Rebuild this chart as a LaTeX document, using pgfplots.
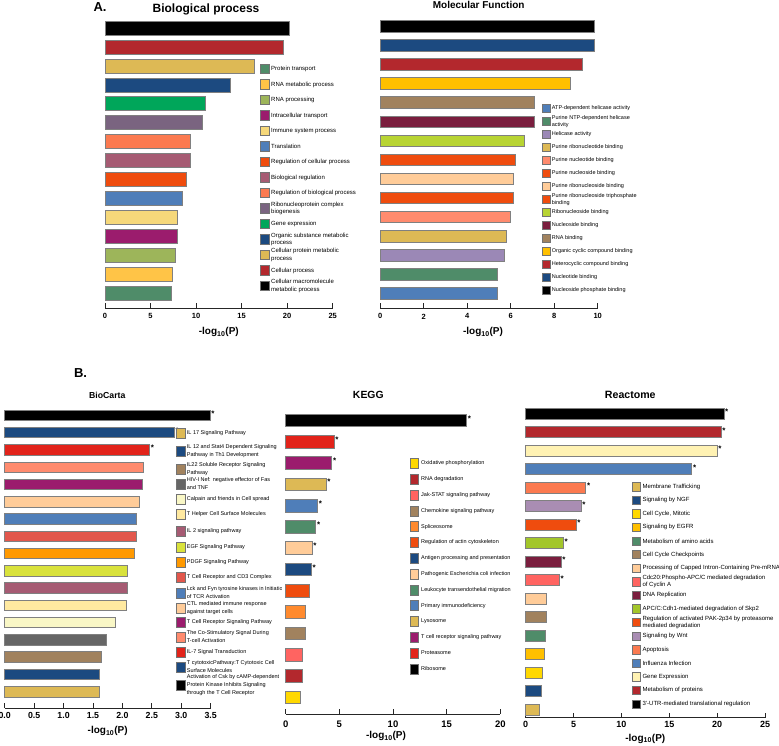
\documentclass[border=0pt]{standalone}
\usepackage{pgfplots}
\pgfplotsset{compat=1.18}
\usepackage{fontspec}
\setmainfont{Liberation Sans}

\definecolor{navy}{HTML}{1C4A80}
\definecolor{brick}{HTML}{B3282D}
\definecolor{gold}{HTML}{DDB955}
\definecolor{ggreen}{HTML}{00A65A}
\definecolor{purpgrey}{HTML}{7A6480}
\definecolor{coral}{HTML}{FB7A50}
\definecolor{mauve}{HTML}{A65B73}
\definecolor{orred}{HTML}{EF4C0E}
\definecolor{steel}{HTML}{4F7EB9}
\definecolor{lyellow}{HTML}{F6D87A}
\definecolor{magenta2}{HTML}{9B1C6D}
\definecolor{olive2}{HTML}{9DB55A}
\definecolor{yelor}{HTML}{FFC447}
\definecolor{gg}{HTML}{4F8C69}
\definecolor{amber}{HTML}{FFC000}
\definecolor{brown2}{HTML}{A1825E}
\definecolor{maroon}{HTML}{7A1E3E}
\definecolor{lime2}{HTML}{B8D433}
\definecolor{peach}{HTML}{FFCC99}
\definecolor{salmon}{HTML}{FF8B6E}
\definecolor{lavender}{HTML}{9B88B6}
\definecolor{red2}{HTML}{E2231A}
\definecolor{indred}{HTML}{E2574C}
\definecolor{orange2}{HTML}{FF9900}
\definecolor{ylime}{HTML}{D9E23C}
\definecolor{helper}{HTML}{FFE9A0}
\definecolor{paley}{HTML}{F9F7C6}
\definecolor{dgrey}{HTML}{666666}
\definecolor{splice}{HTML}{FF8A2E}
\definecolor{jak}{HTML}{FF6461}
\definecolor{yellow2}{HTML}{FFD800}
\definecolor{genex}{HTML}{FFF2B3}
\definecolor{wnt}{HTML}{A98DB3}
\definecolor{apc}{HTML}{A3C62A}

\pgfplotsset{
  hpanel/.style={
    scale only axis,
    axis x line=bottom, axis y line=none,
    axis line style={-, line width=0.9pt, black!85},
    xtick align=inside,
    major tick length=5pt,
    tick style={line width=0.9pt, black!85},
    ytick=\empty,
    clip=false,
    xmin=0,
    xticklabel={\bfseries\pgfmathprintnumber[assume math mode=true]{\tick}},
    xticklabel style={anchor=center},
    xlabel={-log\textsubscript{10}(P)},
    xlabel style={font=\bfseries\fontsize{10}{11}\selectfont, at={(axis description cs:0.5,0)}, anchor=center},
  },
  hb/.style={xbar, bar shift=0pt, fill=#1, draw=black!50, line width=0.6pt},
  star/.style={nodes near coords={*},
    every node near coord/.append style={anchor=west, font=\bfseries\fontsize{8}{8}\selectfont, inner sep=1pt, yshift=2pt}},
}

\begin{document}
\begin{tikzpicture}
\useasboundingbox (0pt,0pt) rectangle (779pt,746pt);

% panel letters and titles
\node[font=\bfseries\fontsize{13}{13}\selectfont] at (100pt,738.5pt) {A.};
\node[font=\bfseries\fontsize{13}{13}\selectfont] at (80.5pt,373pt) {B.};
\node[font=\bfseries\fontsize{12}{12}\selectfont] at (206pt,737pt) {Biological process};
\node[font=\bfseries\fontsize{10}{10}\selectfont] at (478.7pt,741pt) {Molecular Function};
\node[font=\bfseries\fontsize{8.7}{9}\selectfont] at (107.3pt,351pt) {BioCarta};
\node[font=\bfseries\fontsize{10.4}{11}\selectfont] at (368.3pt,351pt) {KEGG};
\node[font=\bfseries\fontsize{10.6}{11}\selectfont] at (630.3pt,351pt) {Reactome};

% ---------------- Biological process
\begin{axis}[hpanel, at={(105pt,438pt)}, anchor=south west,
  width=227.7pt, height=291.3pt, xmax=25, ymin=0.21, ymax=15.6,
  bar width=14pt, xtick={0,5,10,15,20,25},
  xticklabel style={font=\fontsize{7.5}{8}\selectfont, yshift=-8.4pt},
  xlabel style={yshift=-24pt}]
\addplot[hb=gg] coordinates {(7.3,1)};
\addplot[hb=yelor] coordinates {(7.35,2)};
\addplot[hb=olive2] coordinates {(7.7,3)};
\addplot[hb=magenta2] coordinates {(7.95,4)};
\addplot[hb=lyellow] coordinates {(7.98,5)};
\addplot[hb=steel] coordinates {(8.5,6)};
\addplot[hb=orred] coordinates {(8.97,7)};
\addplot[hb=mauve] coordinates {(9.4,8)};
\addplot[hb=coral] coordinates {(9.37,9)};
\addplot[hb=purpgrey] coordinates {(10.7,10)};
\addplot[hb=ggreen] coordinates {(11.05,11)};
\addplot[hb=navy] coordinates {(13.8,12)};
\addplot[hb=gold] coordinates {(16.4,13)};
\addplot[hb=brick] coordinates {(19.55,14)};
\addplot[hb=black] coordinates {(20.2,15)};
\end{axis}

% ---------------- Molecular Function
\begin{axis}[hpanel, at={(380.3pt,438pt)}, anchor=south west,
  width=217.4pt, height=293pt, xmax=10, ymin=0.22, ymax=15.6,
  bar width=11.7pt, xtick={0,2,4,6,8,10},
  xticklabel style={font=\fontsize{7.5}{8}\selectfont, yshift=-8.4pt},
  xlabel style={yshift=-24pt, xshift=-6pt}]
\addplot[hb=steel] coordinates {(5.38,1)};
\addplot[hb=gg] coordinates {(5.38,2)};
\addplot[hb=lavender] coordinates {(5.72,3)};
\addplot[hb=gold] coordinates {(5.8,4)};
\addplot[hb=salmon] coordinates {(5.99,5)};
\addplot[hb=orred] coordinates {(6.12,6)};
\addplot[hb=peach] coordinates {(6.12,7)};
\addplot[hb=orred] coordinates {(6.22,8)};
\addplot[hb=lime2] coordinates {(6.61,9)};
\addplot[hb=maroon] coordinates {(7.08,10)};
\addplot[hb=brown2] coordinates {(7.08,11)};
\addplot[hb=amber] coordinates {(8.72,12)};
\addplot[hb=brick] coordinates {(9.28,13)};
\addplot[hb=navy] coordinates {(9.84,14)};
\addplot[hb=black] coordinates {(9.84,15)};
\end{axis}

% ---------------- BioCarta
\begin{axis}[hpanel, at={(4.7pt,38pt)}, anchor=south west,
  width=206pt, height=303.1pt, xmax=3.5, ymin=0.05, ymax=17.6,
  bar width=10.5pt, xtick={0,0.5,1,1.5,2,2.5,3,3.5},
  xticklabel={\bfseries\pgfmathprintnumber[assume math mode=true, fixed, fixed zerofill, precision=1]{\tick}},
  xticklabel style={font=\fontsize{8.8}{9}\selectfont, yshift=-7.5pt},
  xlabel style={yshift=-23pt}]
\addplot[hb=gold] coordinates {(1.61,1)};
\addplot[hb=navy] coordinates {(1.61,2)};
\addplot[hb=brown2] coordinates {(1.64,3)};
\addplot[hb=dgrey] coordinates {(1.73,4)};
\addplot[hb=paley] coordinates {(1.88,5)};
\addplot[hb=helper] coordinates {(2.06,6)};
\addplot[hb=mauve] coordinates {(2.08,7)};
\addplot[hb=ylime] coordinates {(2.08,8)};
\addplot[hb=orange2] coordinates {(2.20,9)};
\addplot[hb=indred] coordinates {(2.23,10)};
\addplot[hb=steel] coordinates {(2.24,11)};
\addplot[hb=peach] coordinates {(2.28,12)};
\addplot[hb=magenta2] coordinates {(2.34,13)};
\addplot[hb=salmon] coordinates {(2.36,14)};
\addplot[hb=red2, star] coordinates {(2.46,15)};
\addplot[hb=navy, star] coordinates {(2.88,16)};
\addplot[hb=black, star] coordinates {(3.49,17)};
\end{axis}

% ---------------- KEGG
\begin{axis}[hpanel, at={(285.7pt,32pt)}, anchor=south west,
  width=214.6pt, height=305.4pt, xmax=20, ymin=0.21, ymax=14.55,
  bar width=12.7pt, xtick={0,5,10,15,20},
  xticklabel style={font=\fontsize{9.5}{10}\selectfont, yshift=-10.5pt},
  xlabel style={yshift=-22pt, xshift=-7pt}]
\addplot[hb=yellow2] coordinates {(1.40,1)};
\addplot[hb=brick] coordinates {(1.55,2)};
\addplot[hb=jak] coordinates {(1.55,3)};
\addplot[hb=brown2] coordinates {(1.80,4)};
\addplot[hb=splice] coordinates {(1.83,5)};
\addplot[hb=orred] coordinates {(2.17,6)};
\addplot[hb=navy, star] coordinates {(2.39,7)};
\addplot[hb=peach, star] coordinates {(2.45,8)};
\addplot[hb=gg, star] coordinates {(2.80,9)};
\addplot[hb=steel, star] coordinates {(2.98,10)};
\addplot[hb=gold, star] coordinates {(3.76,11)};
\addplot[hb=magenta2, star] coordinates {(4.29,12)};
\addplot[hb=red2, star] coordinates {(4.5,13)};
\addplot[hb=black, star] coordinates {(16.86,14)};
\end{axis}

% ---------------- Reactome
\begin{axis}[hpanel, at={(525.7pt,28.3pt)}, anchor=south west,
  width=239.3pt, height=315pt, xmax=25, ymin=0.57, ymax=17.6,
  bar width=11pt, xtick={0,5,10,15,20,25},
  xticklabel style={font=\fontsize{9}{10}\selectfont, yshift=-6.8pt},
  xlabel style={yshift=-21pt}]
\addplot[hb=gold] coordinates {(1.42,1)};
\addplot[hb=navy] coordinates {(1.6,2)};
\addplot[hb=yellow2] coordinates {(1.74,3)};
\addplot[hb=amber] coordinates {(1.95,4)};
\addplot[hb=gg] coordinates {(2.02,5)};
\addplot[hb=brown2] coordinates {(2.12,6)};
\addplot[hb=peach] coordinates {(2.15,7)};
\addplot[hb=jak, star] coordinates {(3.51,8)};
\addplot[hb=maroon, star] coordinates {(3.69,9)};
\addplot[hb=apc, star] coordinates {(3.93,10)};
\addplot[hb=orred, star] coordinates {(5.26,11)};
\addplot[hb=wnt, star] coordinates {(5.78,12)};
\addplot[hb=coral, star] coordinates {(6.27,13)};
\addplot[hb=steel, star] coordinates {(17.35,14)};
\addplot[hb=genex, star] coordinates {(20.0,15)};
\addplot[hb=brick, star] coordinates {(20.4,16)};
\addplot[hb=black, star] coordinates {(20.7,17)};
\end{axis}

% ---------------- legends
\begin{scope}[font=\fontsize{6}{7.3}\selectfont]
\foreach \yy/\cl/\lt in {677/gg/{Protein transport}, 661.5/yelor/{RNA metabolic process},
  646/olive2/{RNA processing}, 630.5/magenta2/{Intracellular transport},
  615/lyellow/{Immune system process}, 599.5/steel/{Translation},
  584/orred/{Regulation of cellular process}, 568.5/mauve/{Biological regulation},
  553/coral/{Regulation of biological process}, 537.5/purpgrey/{Ribonucleoprotein complex\\ biogenesis},
  522/ggreen/{Gene expression}, 506.5/navy/{Organic substance metabolic\\process},
  491/gold/{Cellular protein metabolic\\ process}, 475.5/brick/{Cellular process},
  460/black/{Cellular macromolecule\\metabolic process}}{
  \filldraw[fill=\cl, draw=black!55, line width=0.5pt] ({260pt},{\yy*1pt-4.75pt}) rectangle ++(9pt,9.5pt);
  \node[anchor=west, align=left, inner sep=0pt] at ({271pt},{\yy*1pt}) {\lt};
}
\end{scope}

\begin{scope}[font=\fontsize{5.5}{7.3}\selectfont]
\foreach \yy/\cl/\lt in {637.7/steel/{ATP-dependent helicase activity},
  624.7/gg/{Purine NTP-dependent helicase\\activity}, 611.7/lavender/{Helicase activity},
  598.7/gold/{Purine ribonucleotide binding}, 585.7/salmon/{Purine nucleotide binding},
  572.7/orred/{Purine nucleoside binding}, 559.7/peach/{Purine ribonucleoside binding},
  546.7/orred/{Purine ribonucleoside triphosphate\\binding}, 533.7/lime2/{Ribonucleoside binding},
  520.7/maroon/{Nucleoside binding}, 507.7/brown2/{RNA binding},
  494.7/amber/{Organic cyclic compound binding}, 481.7/brick/{Heterocyclic compound binding},
  468.7/navy/{Nucleotide binding}, 455.7/black/{Nucleoside phosphate binding}}{
  \filldraw[fill=\cl, draw=black!55, line width=0.5pt] ({542.7pt},{\yy*1pt-4.25pt}) rectangle ++(7.5pt,8.5pt);
  \node[anchor=west, align=left, inner sep=0pt] at ({551.7pt},{\yy*1pt}) {\lt};
}
\end{scope}

\begin{scope}[font=\fontsize{5.5}{8}\selectfont]
\clip (0pt,0pt) rectangle (281pt,746pt);
\foreach \yy/\cl/\lt in {313/gold/{IL 17 Signaling Pathway},
  295/navy/{IL 12 and Stat4 Dependent Signaling\\Pathway in Th1 Development},
  277/brown2/{IL22 Soluble Receptor Signaling\\Pathway},
  262/dgrey/{HIV-I Nef: negative effector of Fas\\and TNF},
  247/paley/{Calpain and friends in Cell spread},
  232/helper/{T Helper Cell Surface Molecules},
  215/mauve/{IL 2 signaling pathway}, 199/ylime/{EGF Signaling Pathway},
  184/orange2/{PDGF Signaling Pathway}, 169/indred/{T Cell Receptor and CD3 Complex},
  153/steel/{Lck and Fyn tyrosine kinases in Initiation\\of TCR Activation},
  138/peach/{CTL mediated immune response\\against target cells},
  124/magenta2/{T Cell Receptor Signaling Pathway},
  109/salmon/{The Co-Stimulatory Signal During\\T-cell Activation},
  94/red2/{IL-7 Signal Transduction},
  79/navy/{T cytotoxicPathway:T Cytotoxic Cell\\Surface Molecules},
  61/black/{Activation of Csk by cAMP-dependent\\Protein Kinase Inhibits Signaling\\through the T Cell Receptor}}{
  \filldraw[fill=\cl, draw=black!55, line width=0.5pt] ({176.7pt},{\yy*1pt-5pt}) rectangle ++(8.3pt,10pt);
  \node[anchor=west, align=left, inner sep=0pt] at ({186.7pt},{\yy*1pt}) {\lt};
}
\end{scope}

\begin{scope}[font=\fontsize{5.5}{7}\selectfont]
\foreach \yy/\cl/\lt in {282.7/yellow2/{Oxidative phosphorylation},
  266.9/brick/{RNA degradation}, 251.1/jak/{Jak-STAT signaling pathway},
  235.2/brown2/{Chemokine signaling pathway}, 219.4/splice/{Spliceosome},
  203.6/orred/{Regulation of actin cytoskeleton},
  187.8/navy/{Antigen processing and presentation},
  171.9/peach/{Pathogenic Escherichia coli infection},
  156.1/gg/{Leukocyte transendothelial migration},
  140.3/steel/{Primary immunodeficiency}, 124.5/gold/{Lysosome},
  108.7/magenta2/{T cell receptor signaling pathway},
  92.9/red2/{Proteasome}, 77.0/black/{Ribosome}}{
  \filldraw[fill=\cl, draw=black!55, line width=0.5pt] ({410pt},{\yy*1pt-5pt}) rectangle ++(8.3pt,10pt);
  \node[anchor=west, align=left, inner sep=0pt] at ({421pt},{\yy*1pt}) {\lt};
}
\end{scope}

\begin{scope}[font=\fontsize{6}{7.3}\selectfont]
\clip (0pt,0pt) rectangle (779pt,746pt);
\foreach \yy/\cl/\lt in {259.3/gold/{Membrane Trafficking},
  245.7/navy/{Signaling by NGF}, 232.1/yellow2/{Cell Cycle, Mitotic},
  218.6/amber/{Signaling by EGFR}, 205.0/gg/{Metabolism of amino acids},
  191.4/brown2/{Cell Cycle Checkpoints},
  177.8/peach/{Processing of Capped Intron-Containing Pre-mRNA},
  164.2/jak/{Cdc20:Phospho-APC/C mediated degradation\\of Cyclin A},
  150.7/maroon/{DNA Replication},
  137.1/apc/{APC/C:Cdh1-mediated degradation of Skp2},
  123.5/orred/{Regulation of activated PAK-2p34 by proteasome\\mediated degradation},
  109.9/wnt/{Signaling by Wnt}, 96.3/coral/{Apoptosis},
  82.8/steel/{Influenza Infection}, 69.2/genex/{Gene Expression},
  55.6/brick/{Metabolism of proteins},
  42.0/black/{3'-UTR-mediated translational regulation}}{
  \filldraw[fill=\cl, draw=black!55, line width=0.5pt] ({632.3pt},{\yy*1pt-4.15pt}) rectangle ++(8.4pt,8.3pt);
  \node[anchor=west, align=left, inner sep=0pt] at ({642.3pt},{\yy*1pt}) {\lt};
}
\end{scope}

\end{tikzpicture}
\end{document}
